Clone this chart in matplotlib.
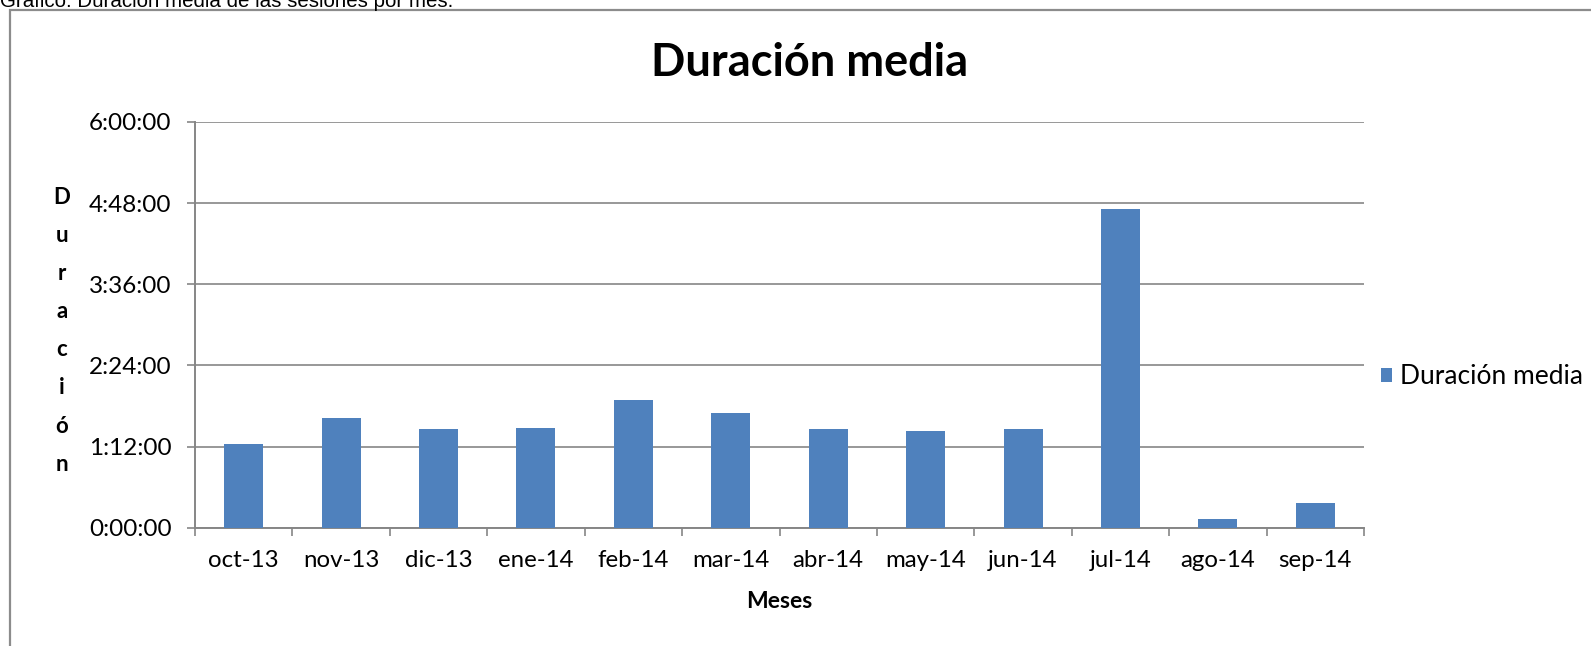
import matplotlib.pyplot as plt
from matplotlib.ticker import FuncFormatter, MultipleLocator
from matplotlib.patches import Rectangle

# duracion media por mes, en minutos
meses = ["oct-13", "nov-13", "dic-13", "ene-14", "feb-14", "mar-14",
         "abr-14", "may-14", "jun-14", "jul-14", "ago-14", "sep-14"]
minutos = [74, 97, 88, 88.5, 113, 102, 87.5, 86, 88, 283, 8, 22]

titulo = "Duración media"
nota = "Gráfico: Duración media de las sesiones por mes."
azul = "#4F81BD"
gris = "#868686"

plt.rcParams['font.family'] = ['Lato', 'DejaVu Sans']

W, H = 1591, 646
fig = plt.figure(figsize=(W / 100, H / 100), dpi=100)

def fx(px):
    return px / W

def fy(py):
    return 1 - py / H

# marco del grafico (se sale por la derecha y por abajo)
fig.patches.append(Rectangle((fx(10), fy(700)), fx(1700), 690 / H,
                             transform=fig.transFigure, fill=False,
                             edgecolor="#8c8c8c", linewidth=1.6))
fig.text(fx(0), fy(7), nota, family="Liberation Sans", fontsize=14.8,
         va="baseline", ha="left")

ax = fig.add_axes([fx(195), fy(527.7), fx(1364) - fx(195), (527.7 - 122) / H])
x = range(len(meses))
ax.bar(x, minutos, width=0.4, color=azul, linewidth=0, zorder=3,
       label=titulo)

ax.set_xlim(-0.5, len(meses) - 0.5)
ax.set_ylim(0, 360)
ax.yaxis.set_major_locator(MultipleLocator(72))
ax.yaxis.set_major_formatter(FuncFormatter(
    lambda v, p: "%d:%02d:00" % (int(v) // 60, int(v) % 60)))
ax.grid(axis="y", color=gris, linewidth=1.2, zorder=0)

ax.set_xticks(list(x))
ax.set_xticklabels(meses)
ax.set_xticks([i - 0.5 for i in range(len(meses) + 1)], minor=True)
ax.tick_params(axis="x", which="major", length=0, pad=16, labelsize=17.3)
ax.tick_params(axis="x", which="minor", length=6, width=1.2, color=gris)
ax.tick_params(axis="y", length=6, width=1.2, color=gris, pad=11,
               labelsize=17.5)

for s in ["top", "right"]:
    ax.spines[s].set_visible(False)
for s in ["left", "bottom"]:
    ax.spines[s].set_color(gris)
    ax.spines[s].set_linewidth(1.4)

fig.text(fx(810), fy(76), titulo, fontsize=32.5, fontweight="bold",
         ha="center", va="baseline")
fig.text(fx(779.5), fy(602), "Meses", fontsize=16.5, fontweight="bold",
         ha="center", va="center")

# etiqueta del eje y, letra a letra
for i, letra in enumerate("Duración"):
    fig.text(fx(62), fy(204 + i * 38.1), letra, fontsize=16,
             fontweight="bold", ha="center", va="baseline")

ax.legend(loc="center left", bbox_to_anchor=(fx(1381), fy(377)),
          bbox_transform=fig.transFigure, frameon=False, fontsize=19,
          handlelength=0.42, handleheight=0.42, handletextpad=0.3,
          borderaxespad=0, borderpad=0)

fig.savefig("out.png", dpi=100)
